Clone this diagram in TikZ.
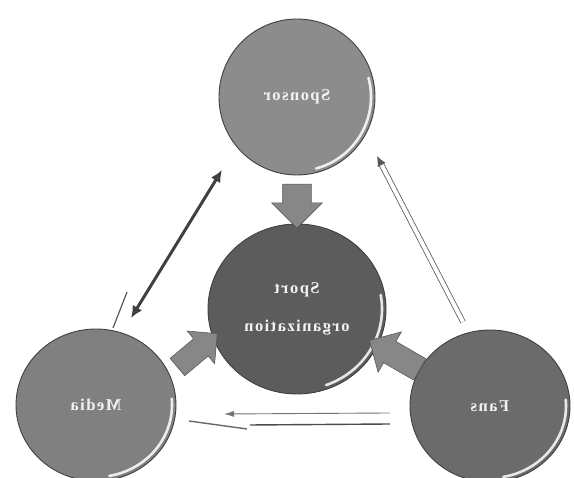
\documentclass[tikz,border=0pt]{standalone}
\usepackage{fontspec}
\setmainfont{Liberation Serif}
\newfontfamily\lblfont{Liberation Serif}[UprightFont=* Bold, LetterSpace=9]
\usepackage{graphicx}
\usetikzlibrary{shapes.geometric,shapes.arrows,arrows.meta}
\begin{document}
\begin{tikzpicture}[x=1pt,y=1pt,
  ball/.style={ellipse, draw=black!75, line width=0.9pt, inner sep=0pt,
    font=\fontsize{16.5}{18}\lblfont, text=white!95!black, align=center},
  lbl/.style={font=\fontsize{16.5}{18}\lblfont, text=white!95!black},
  shine/.style={white, line width=2.6pt, opacity=0.85, line cap=round},
  blockarrow/.style={single arrow, draw=black!65, fill=black!47, line width=0.6pt,
    inner xsep=0pt},
  dark/.style={draw=black!75, line width=3pt, {Latex[length=12pt,width=11pt]}-{Latex[length=12pt,width=11pt]}},
  hollow/.style={draw=black!65, line width=0.8pt, double=white, double distance=4pt, -{Latex[length=10pt,width=9pt]}},
  thin/.style={draw=black!65, line width=1.2pt}
]
\useasboundingbox (0,0) rectangle (574,478);
% circles
\node[ball, minimum width=156pt, minimum height=156pt, fill=black!45] (sponsor) at (297,381) {\reflectbox{Sponsor}};
\node[ball, minimum width=178pt, minimum height=170pt, fill=black!64] (sport) at (297,169)
  {\raisebox{6pt}{\reflectbox{\begin{tabular}{@{}c@{}}Sport\\[20pt]organization\end{tabular}}}};
\node[ball, minimum width=160pt, minimum height=152pt, fill=black!50] (media) at (96,73) {};
\node[lbl] (medialbl) at (media.center) {\reflectbox{Media}};
\node[ball, minimum width=160pt, minimum height=152pt, fill=black!58] (fans) at (490,72) {};
\node[lbl] (fanslbl) at (fans.center) {\reflectbox{Fans}};
% shines
\draw[shine] (sponsor.center) ++(-75:74) arc[start angle=-75, end angle=15, radius=74];
\draw[shine] (sport.center) ++(-70:85 and 81) arc[start angle=-70, end angle=10, x radius=85, y radius=81];
\draw[shine] (media.center) ++(-80:76 and 72) arc[start angle=-80, end angle=5, x radius=76, y radius=72];
\draw[shine] (fans.center) ++(-80:76 and 72) arc[start angle=-80, end angle=5, x radius=76, y radius=72];
% block arrows into Sport organization
\node[blockarrow, inner ysep=14pt, single arrow head extend=11pt, minimum height=44pt, rotate=-90] (a1) at (297,279) {};
\node[blockarrow, inner ysep=11pt, single arrow head extend=10pt, minimum height=52pt, rotate=40] (a2) at (193,124) {};
\node[blockarrow, inner ysep=12pt, single arrow head extend=11pt, minimum height=58pt, rotate=150] (a3) at (400,120) {};
% Media <-> Sponsor
\coordinate (ms1) at (131,160);
\coordinate (ms2) at (222,308);
\draw[dark] (ms1) -- (ms2);
\coordinate (mt1) at (113,150);
\coordinate (mt2) at (127,186);
\draw[thin] (mt1) -- (mt2);
% Fans -> Sponsor
\coordinate (fs1) at (463,156);
\coordinate (fs2) at (377,322);
\draw[hollow] (fs1) -- (fs2);
% Fans -> Media
\coordinate (fm1) at (390,65);
\coordinate (fm2) at (224,64);
\draw[draw=black!55, line width=0.9pt, -{Latex[length=10pt,width=6pt]}] (fm1) -- (fm2);
\coordinate (fm3) at (390,54);
\coordinate (fm4) at (250,53);
\draw[draw=black!70, line width=1.4pt] (fm3) -- (fm4);
\coordinate (fm5) at (247,49);
\coordinate (fm6) at (189,57);
\draw[draw=black!60, line width=1.4pt] (fm5) -- (fm6);
\end{tikzpicture}
\end{document}
